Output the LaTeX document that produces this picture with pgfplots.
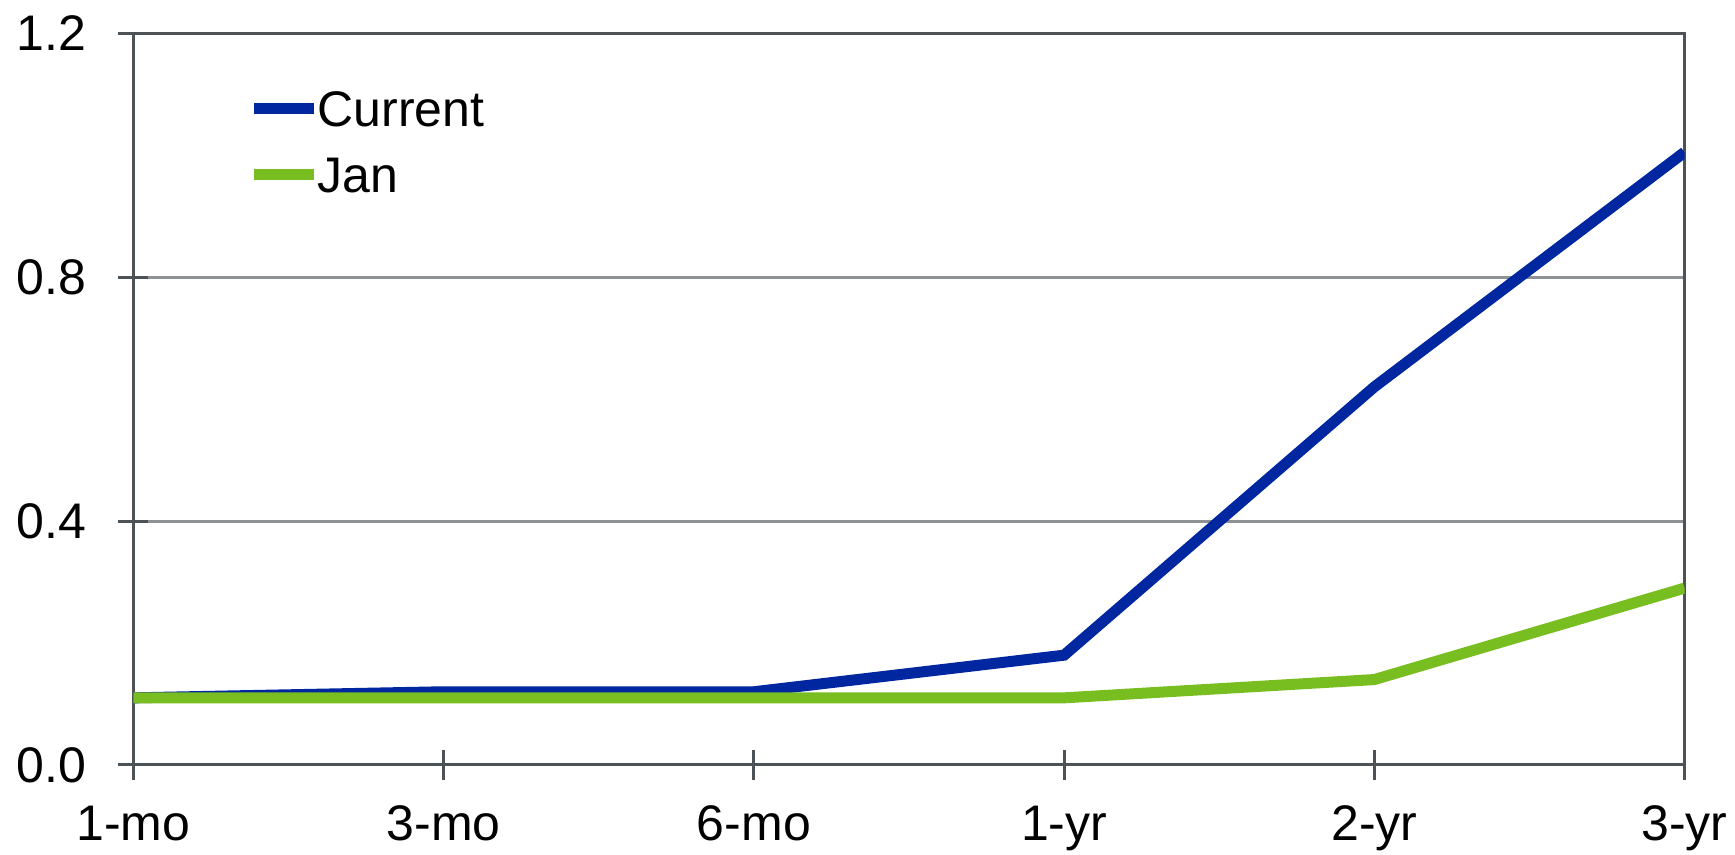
\documentclass[border=0pt]{standalone}
\usepackage{fontspec}
\setmainfont{Liberation Sans}
\usepackage{pgfplots}
\pgfplotsset{compat=1.18}

\definecolor{curblue}{RGB}{0,38,160}
\definecolor{jangreen}{RGB}{120,190,32}
\definecolor{axisgray}{RGB}{77,82,87}
\definecolor{gridgray}{RGB}{140,145,150}

\pgfplotstableread{
x cur jan
0 0.11 0.11
1 0.12 0.11
2 0.12 0.11
3 0.18 0.11
4 0.62 0.14
5 1.005 0.29
}\yields

\begin{document}
\fontsize{12.5}{15}\selectfont
\begin{tikzpicture}
\begin{axis}[
    scale only axis,
    width=387.75pt, height=182.9pt,
    xmin=0, xmax=5, ymin=0, ymax=1.2,
    xtick=data,
    xticklabels={1-mo,3-mo,6-mo,1-yr,2-yr,3-yr},
    ytick={0,0.4,0.8,1.2},
    /pgf/number format/fixed,
    /pgf/number format/fixed zerofill,
    /pgf/number format/precision=1,
    /pgf/number format/assume math mode=true,
    ymajorgrids,
    grid style={gridgray, line width=0.75pt},
    axis line style={axisgray, line width=0.75pt},
    tick style={axisgray, line width=0.75pt},
    tick align=center,
    major tick length=7.5pt,
    xtick pos=bottom, ytick pos=left,
    xticklabel style={inner sep=0pt, anchor=north, yshift=-6.25pt},
    yticklabel style={inner sep=0pt, anchor=east, xshift=-7.85pt},
    legend style={draw=none, fill=none, at={(0,1)}, anchor=north west,
        xshift=28.5pt, yshift=-14.2pt, inner sep=0pt, row sep=7.5pt, column sep=-0.4pt,
        nodes={inner sep=0pt, text height=9pt, text depth=0pt}},
    legend cell align=left,
    legend image code/.code={
        \path (0pt,0pt) -- (15pt,0pt);
        \draw[#1, line width=2.5pt, line cap=round] (1.25pt,0pt) -- (13.75pt,0pt);},
]
\addplot[curblue, line width=2.75pt] table[x=x, y=cur] {\yields};
\addlegendentry{Current}
\addplot[jangreen, line width=2.75pt] table[x=x, y=jan] {\yields};
\addlegendentry{Jan}
\end{axis}
\pgfresetboundingbox
\path[use as bounding box] (current axis.south west) ++(-33.375pt,-22.5pt)
    rectangle ([xshift=12.625pt,yshift=8.325pt]current axis.north east);
\end{tikzpicture}
\end{document}
